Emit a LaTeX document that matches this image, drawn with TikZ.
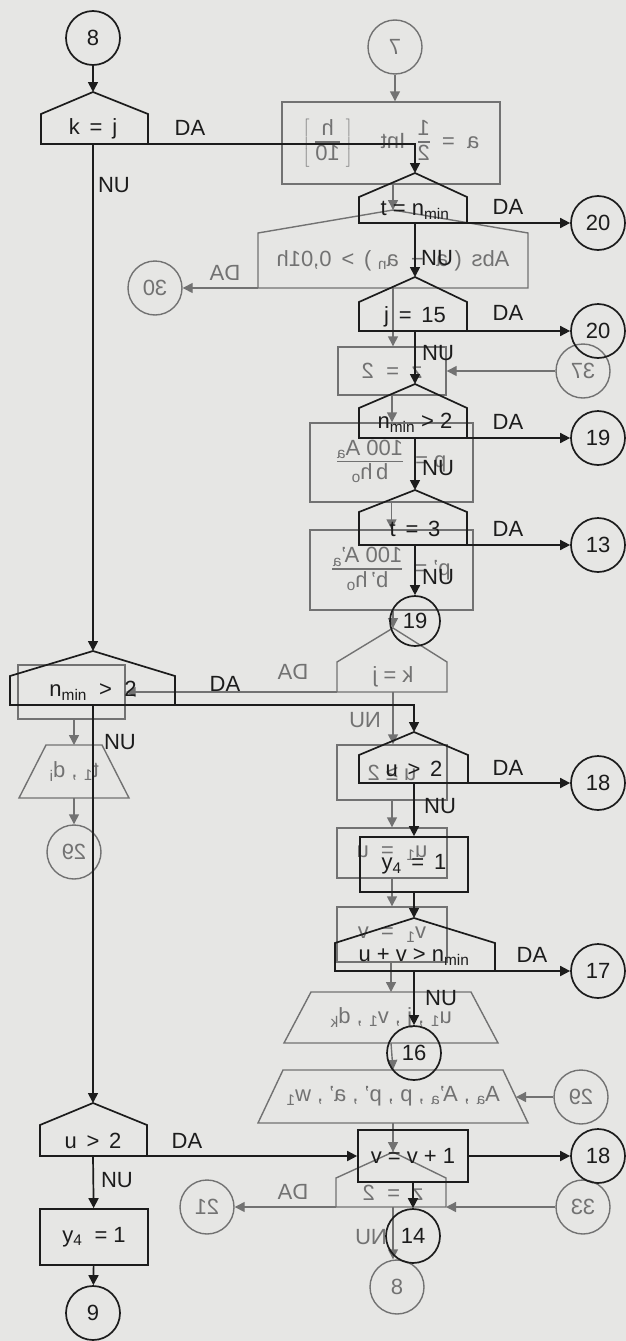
\documentclass[tikz,border=0pt]{standalone}
\usepackage{fontspec}
\setmainfont{Liberation Sans}
\usepackage{graphicx}
\usetikzlibrary{arrows.meta}
\definecolor{bg}{HTML}{E6E6E4}
\definecolor{ink}{HTML}{1C1C1C}
\definecolor{back}{HTML}{727272}
\newcommand\sub[1]{\textsubscript{#1}}
\newcommand\mir[1]{\scalebox{-1}[1]{#1}}
\newcommand\vfr[2]{\begin{tabular}{@{}c@{}}#1\\[-2pt]\noalign{\hrule height 1.1pt}\rule{0pt}{17pt}#2\end{tabular}}
% #1 style, #2 name, #3 cx, #4 left, #5 right, #6 top vertex y, #7 shoulder y, #8 bottom y, #9 text
\newcommand\hexa[9]{%
  \draw[#1] (#4,#8) -- (#4,#7) -- (#3,#6) -- (#5,#7) -- (#5,#8) -- cycle;
  \coordinate (#2-t) at (#3,#6);
  \coordinate (#2-b) at (#3,#8);
  \coordinate (#2-bl) at (#4,#8);
  \coordinate (#2-br) at (#5,#8);
  \node[#1t] (#2) at (#3,{(#7+#8)/2}) {#9};
}
% #1 style, #2 name, #3 cx, #4 ytop, #5 ybot, #6 half top, #7 half bottom, #8 text
\newcommand\trap[8]{%
  \draw[#1] ({#3-#6},#4) -- ({#3+#6},#4) -- ({#3+#7},#5) -- ({#3-#7},#5) -- cycle;
  \coordinate (#2-t) at (#3,#4);
  \coordinate (#2-b) at (#3,#5);
  \node[#1t] (#2) at (#3,{(#4+#5)/2}) {#8};
}
\begin{document}
\begin{tikzpicture}[x=1pt,y=-1pt,
  fr/.style={draw=ink, line width=1.7pt},
  bk/.style={draw=back, line width=1.4pt},
  frt/.style={text=ink, font=\fontsize{22}{25}\selectfont, inner sep=0pt},
  bkt/.style={text=back, font=\fontsize{22}{25}\selectfont, inner sep=0pt},
  farr/.style={fr, -{Triangle[length=10pt,width=10pt]}},
  barr/.style={bk, -{Triangle[length=10pt,width=10pt]}},
  fcirc/.style={fr, circle, minimum size=54pt, inner sep=0pt, text=ink, font=\fontsize{22}{25}\selectfont},
  bcirc/.style={bk, circle, minimum size=54pt, inner sep=0pt, text=back, font=\fontsize{22}{25}\selectfont},
  fbox/.style={fr, rectangle, inner sep=0pt, text=ink, font=\fontsize{22}{25}\selectfont},
  bbox/.style={bk, rectangle, inner sep=0pt, text=back, font=\fontsize{22}{25}\selectfont}]
\fill[bg] (0,0) rectangle (626,1341);
\useasboundingbox (0,0) rectangle (626,1341);

% ---------------- back side (show-through, mirrored) ----------------
\node[bcirc] (b7) at (395,47) {\mir{7}};
\node[bbox, minimum width=218pt, minimum height=82pt] (ba) at (391,143)
  {\mir{a \ = \ \vfr{1}{2} \ Int \quad $\left[\vcenter{\hbox{\ \vfr{h}{10}\ }}\right]$}};
\draw[barr] (b7) -- (b7 |- ba.north);
\hexa{bk}{babs}{393}{258}{528}{210}{233}{288}{\mir{Abs \,( a \ − \ a\sub{n} ) \,>\, 0,01h}}
\draw[barr] (babs-t |- ba.south) -- (babs-t);
\node[bcirc] (b30) at (155,288) {\mir{30}};
\draw[barr] (babs-bl) -- (b30);
\node[bkt] (bl1) at (225,273) {\mir{DA}};
\node[bbox, minimum width=108pt, minimum height=48pt] (bz) at (392,371) {\mir{z \ = \ 2}};
\draw[barr] (babs-b) -- (babs-b |- bz.north);
\node[bcirc] (b37) at (583,371) {\mir{37}};
\draw[barr] (b37) -- (bz.east);
\node[bbox, minimum width=163pt, minimum height=79pt] (bp) at (391.5,462.5)
  {\mir{p = \ \vfr{100 A\sub{a}}{b\,h\sub{o}}}};
\draw[barr] (bz.south) -- (bz.south |- bp.north);
\node[bbox, minimum width=163pt, minimum height=80pt] (bp2) at (391.5,570)
  {\mir{p' = \ \vfr{100 A'\sub{a}}{b'\,h\sub{o}}}};
\draw[barr] (bp) -- (bp2);
\hexa{bk}{bkj}{393}{337}{447}{628}{662}{692}{\mir{k = j}}
\draw[barr] (bkj-t |- bp2.south) -- (bkj-t);
\node[bkt] (bl2) at (293,672) {\mir{DA}};
\node[bbox, minimum width=107pt, minimum height=54pt] (bl) at (71.5,692) {};
\draw[barr] (bkj-bl) -- (bl.east);
\trap{bk}{btl}{74}{745}{798}{28}{55}{\mir{t\sub{1} , d\sub{i}}}
\draw[barr] (btl-t |- bl.south) -- (btl-t);
\node[bcirc] (b29a) at (74,852) {\mir{29}};
\draw[barr] (btl-b) -- (b29a);
\node[bkt] (bl3) at (365,720) {\mir{NU}};
\node[bbox, minimum width=110pt, minimum height=55pt] (bb1) at (392,772.5) {\mir{u ≥ 2}};
\draw[barr] (bkj-b) -- (bkj-b |- bb1.north);
\node[bbox, minimum width=110pt, minimum height=50pt] (bb2) at (392,853) {\mir{u\sub{1} \ = \ u}};
\draw[barr] (bb1) -- (bb2);
\node[bbox, minimum width=110pt, minimum height=55pt] (bb3) at (392,934.5) {\mir{v\sub{1} \ = \ v}};
\draw[barr] (bb2) -- (bb3);
\trap{bk}{btr}{391}{992}{1043}{80}{107}{\mir{u\sub{1} , j , v\sub{1} , d\sub{k}}}
\draw[barr] (btr-t |- bb3.south) -- (btr-t);
\trap{bk}{bta}{393}{1070}{1123}{110}{135}{\mir{A\sub{a} , A'\sub{a} , p , p' , a' , w\sub{1}}}
\draw[barr] (btr-b) -- (bta-t);
\coordinate (bta-r) at (516,1097);
\node[bcirc] (b29b) at (581,1097) {\mir{29}};
\draw[barr] (b29b) -- (bta-r);
\hexa{bk}{bhz}{393}{336}{446}{1152}{1178}{1207}{\mir{z \ = \ 2}}
\draw[barr] (bta-b) -- (bhz-t);
\node[bkt] (bl4) at (293,1192) {\mir{DA}};
\node[bcirc] (b21) at (207,1207) {\mir{21}};
\draw[barr] (bhz-bl) -- (b21);
\node[bcirc] (b33) at (583,1207) {\mir{33}};
\draw[barr] (b33) -- (bhz-br);
\node[bkt] (bl5) at (371,1237) {\mir{NU}};
\node[bcirc] (b8) at (397,1287) {\mir{8}};
\draw[barr] (bhz-b) -- (bhz-b |- b8.north);

% ---------------- front side ----------------
% left column
\node[fcirc] (c8) at (93,38) {8};
\hexa{fr}{kj}{93}{41}{148}{92}{114}{144}{k \,=\, j}
\draw[farr] (c8) -- (kj-t);
\node[frt] (l1) at (190,128) {DA};
\node[frt] (l2) at (114,185) {NU};

% right column, top
\hexa{fr}{tn}{415}{359}{467}{173}{197}{223}{t = n\sub{min}}
\draw[farr] (kj-br) -- (tn-t |- kj-br) -- (tn-t);
\node[fcirc] (c20a) at (598,223) {20};
\draw[farr] (tn-br) -- (c20a);
\node[frt] (l3) at (508,207) {DA};
\node[frt] (l4) at (437,258) {NU};

\hexa{fr}{jf}{415}{359}{467}{277}{302}{331}{j \,=\, 15}
\draw[farr] (tn-b) -- (jf-t);
\node[fcirc] (c20b) at (598,331) {20};
\draw[farr] (jf-br) -- (c20b);
\node[frt] (l5) at (508,313) {DA};
\node[frt] (l6) at (438,353) {NU};

\hexa{fr}{nm}{415}{359}{467}{384}{408}{438}{n\sub{min} > 2}
\draw[farr] (jf-b) -- (nm-t);
\node[fcirc] (c19a) at (598,438) {19};
\draw[farr] (nm-br) -- (c19a);
\node[frt] (l7) at (508,422) {DA};
\node[frt] (l8) at (438,468) {NU};

\hexa{fr}{tt}{415}{359}{467}{490}{512}{545}{t \,=\, 3}
\draw[farr] (nm-b) -- (tt-t);
\node[fcirc] (c13) at (598,545) {13};
\draw[farr] (tt-br) -- (c13);
\node[frt] (l9) at (508,529) {DA};
\node[frt] (l10) at (438,577) {NU};
\node[fcirc, minimum size=50pt] (c19b) at (415,621) {19};
\draw[farr] (tt-b) -- (c19b);

% left column, middle
\hexa{fr}{nl}{93}{10}{175}{651}{676}{705}{n\sub{min} \ > \ 2}
\draw[farr] (kj-b) -- (nl-t);
\node[frt] (l11) at (225,684) {DA};
\node[frt] (l12) at (120,742) {NU};

% right column, lower
\hexa{fr}{ur}{414}{359}{468}{732}{755}{783}{u \,>\, 2}
\draw[farr] (nl-br) -- (ur-t |- nl-br) -- (ur-t);
\node[fcirc] (c18a) at (598,783) {18};
\draw[farr] (ur-br) -- (c18a);
\node[frt] (l13) at (508,768) {DA};
\node[frt] (l14) at (440,806) {NU};
\node[fbox, minimum width=108pt, minimum height=55pt] (y4r) at (414,864.5) {y\sub{4} \,=\, 1};
\draw[farr] (ur-b) -- (y4r);
\hexa{fr}{uv}{414}{335}{495}{918}{943}{971}{u + v > n\sub{min}}
\draw[farr] (y4r) -- (uv-t);
\node[fcirc] (c17) at (598,971) {17};
\draw[farr] (uv-br) -- (c17);
\node[frt] (l15) at (532,955) {DA};
\node[frt] (l16) at (441,998) {NU};
\node[fcirc] (c16) at (414,1053) {16};
\draw[farr] (uv-b) -- (c16);

% left column, bottom
\hexa{fr}{ul}{93}{40}{147}{1103}{1125}{1156}{u \,>\, 2}
\draw[farr] (nl-b) -- (ul-t);
\node[frt] (l17) at (187,1141) {DA};
\node[frt] (l18) at (117,1180) {NU};
\node[fbox, minimum width=110pt, minimum height=52pt] (vv) at (413,1156) {v = v + 1};
\draw[farr] (ul-br) -- (vv);
\node[fcirc] (c18b) at (598,1156) {18};
\draw[farr] (vv) -- (c18b);
\node[fcirc] (c14) at (413,1236) {14};
\draw[farr] (vv) -- (c14);
\node[fbox, minimum width=108pt, minimum height=56pt] (y4l) at (94,1237) {y\sub{4} \ = 1};
\draw[farr] (ul-b) -- (y4l);
\node[fcirc] (c9) at (93,1313) {9};
\draw[farr] (y4l) -- (c9);
\end{tikzpicture}
\end{document}
